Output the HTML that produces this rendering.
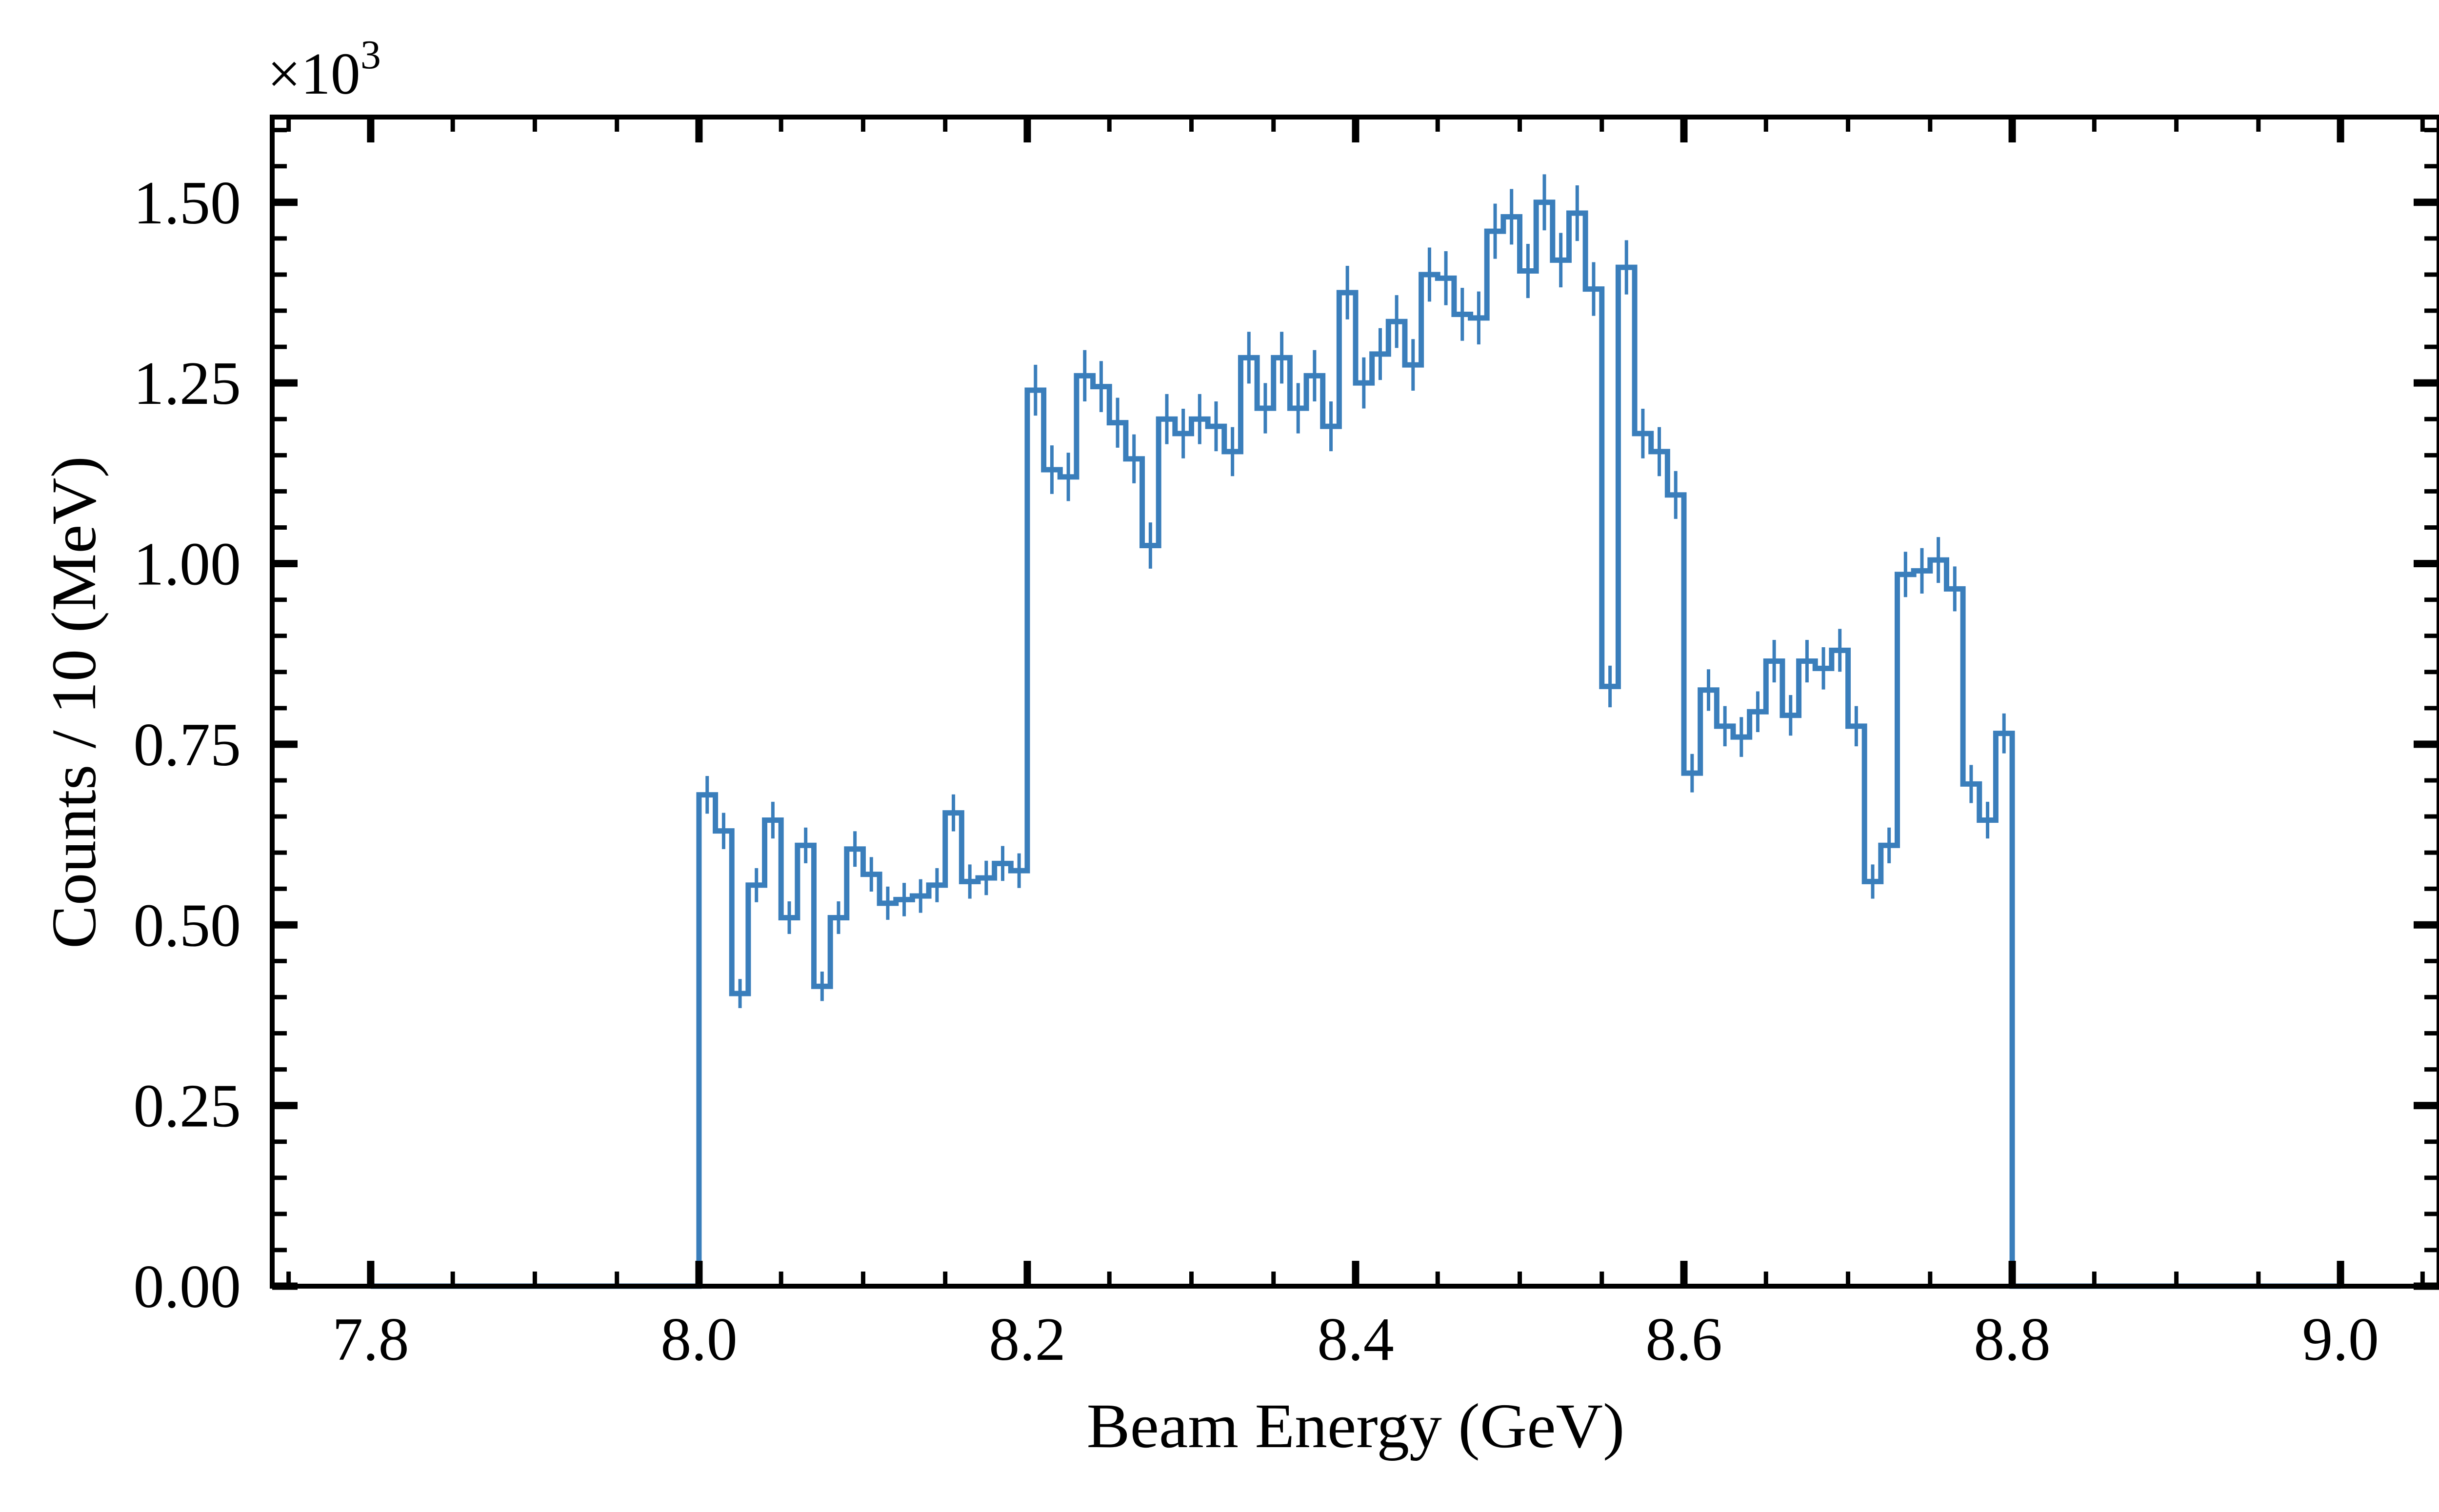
<!DOCTYPE html>
<html>
<head>
<meta charset="utf-8">
<style>
  html, body { margin: 0; padding: 0; background: #fff; }
  svg { display: block; }
  text { font-family: "Liberation Serif", "DejaVu Serif", serif; fill: #000; }
</style>
</head>
<body>
<svg id="chart" xmlns="http://www.w3.org/2000/svg" width="5100" height="3100" viewBox="0 0 5100 3100">
  <rect x="0" y="0" width="5100" height="3100" fill="#ffffff"/>
  <g id="series"></g>
  <g id="errors"></g>
  <g id="ticks"></g>
  <rect x="558" y="240" width="4442" height="2397" fill="none" stroke="#000" stroke-width="10"/>
  <g id="labels"></g>
  <text x="548" y="192" font-size="122">×10<tspan font-size="84" dy="-52">3</tspan></text>
  <text x="2779" y="2967" font-size="130" text-anchor="middle" textLength="1103" lengthAdjust="spacingAndGlyphs">Beam Energy (GeV)</text>
  <text transform="translate(195,1440) rotate(-90)" x="0" y="0" font-size="130" text-anchor="middle" textLength="1010" lengthAdjust="spacingAndGlyphs">Counts / 10 (MeV)</text>
</svg>
<script>
// ---- data ----
const binStart = 8.00;      // first filled bin lower edge (GeV)
const binWidth = 0.01;      // 10 MeV bins
const histRangeLow = 7.8;
const histRangeHigh = 9.0;
const counts = [
  0.680, 0.630, 0.405, 0.555, 0.645, 0.510, 0.610, 0.415, 0.510, 0.605,
  0.570, 0.530, 0.535, 0.540, 0.555, 0.655, 0.560, 0.565, 0.585, 0.575,
  1.240, 1.130, 1.120, 1.260, 1.245, 1.195, 1.145, 1.025, 1.200, 1.180,
  1.200, 1.190, 1.155, 1.285, 1.215, 1.285, 1.215, 1.260, 1.190, 1.375,
  1.250, 1.290, 1.335, 1.275, 1.400, 1.395, 1.345, 1.340, 1.460, 1.480,
  1.405, 1.500, 1.420, 1.485, 1.380, 0.830, 1.410, 1.180, 1.155, 1.095,
  0.710, 0.825, 0.775, 0.760, 0.795, 0.865, 0.790, 0.865, 0.855, 0.880,
  0.775, 0.560, 0.610, 0.985, 0.990, 1.005, 0.965, 0.695, 0.645, 0.765
];
const xTickValues = [7.8, 8.0, 8.2, 8.4, 8.6, 8.8, 9.0];
const xTickLabels = ["7.8", "8.0", "8.2", "8.4", "8.6", "8.8", "9.0"];
const yTickValues = [0, 0.25, 0.5, 0.75, 1.0, 1.25, 1.5];
const yTickLabels = ["0.00", "0.25", "0.50", "0.75", "1.00", "1.25", "1.50"];

// ---- axes ----
const PL = 558, PR = 5000, PT = 240, PB = 2637;
const XMIN = 7.74, XMAX = 9.06, YMIN = 0, YMAX = 1.618;
function xs(v) { return PL + (v - XMIN) / (XMAX - XMIN) * (PR - PL); }
function ys(v) { return PB - (v - YMIN) / (YMAX - YMIN) * (PB - PT); }

const NS = "http://www.w3.org/2000/svg";
const COLOR = "#3a7ebb";

// histogram step path
let d = "M" + xs(histRangeLow) + "," + ys(0) + " L" + xs(binStart) + "," + ys(0);
for (let i = 0; i < counts.length; i++) {
  const x0 = binStart + i * binWidth, x1 = x0 + binWidth;
  d += " L" + xs(x0) + "," + ys(counts[i]) + " L" + xs(x1) + "," + ys(counts[i]);
}
const lastEdge = binStart + counts.length * binWidth;
d += " L" + xs(lastEdge) + "," + ys(0) + " L" + xs(histRangeHigh) + "," + ys(0);
const path = document.createElementNS(NS, "path");
path.setAttribute("d", d);
path.setAttribute("fill", "none");
path.setAttribute("stroke", COLOR);
path.setAttribute("stroke-width", "11");
path.setAttribute("stroke-linejoin", "miter");


document.getElementById("series").appendChild(path);

// error bars (Poisson, counts in units of 1e3)
const eg = document.getElementById("errors");
for (let i = 0; i < counts.length; i++) {
  const c = binStart + (i + 0.5) * binWidth;
  const e = Math.sqrt(counts[i] * 1000) / 1000;
  const ln = document.createElementNS(NS, "line");
  ln.setAttribute("x1", xs(c)); ln.setAttribute("x2", xs(c));
  ln.setAttribute("y1", ys(counts[i] - e)); ln.setAttribute("y2", ys(counts[i] + e));
  ln.setAttribute("stroke", COLOR);
  ln.setAttribute("stroke-width", "7");
  
  
  eg.appendChild(ln);
}

// ticks
const tg = document.getElementById("ticks");
function tick(x1, y1, x2, y2, w) {
  const t = document.createElementNS(NS, "line");
  t.setAttribute("x1", x1); t.setAttribute("y1", y1);
  t.setAttribute("x2", x2); t.setAttribute("y2", y2);
  t.setAttribute("stroke", "#000"); t.setAttribute("stroke-width", w);
  
  
  tg.appendChild(t);
}
const MAJ = 52, MIN = 30;
for (let k = 0; k <= 26; k++) {
  const v = 7.75 + k * 0.05;
  if (v < XMIN || v > XMAX) continue;
  const major = Math.abs((v * 10) % 2) < 1e-6 || Math.abs((v * 10) % 2 - 2) < 1e-6;
  const x = xs(v), L = major ? MAJ : MIN, w = major ? 15 : 9;
  tick(x, PB, x, PB - L, w);
  tick(x, PT, x, PT + L, w);
}
for (let k = 0; k <= 32; k++) {
  const v = k * 0.05;
  if (v > YMAX) continue;
  const major = (k % 5 === 0);
  const y = ys(v), L = major ? MAJ : MIN, w = major ? 15 : 9;
  tick(PL, y, PL + L, y, w);
  tick(PR, y, PR - L, y, w);
}

// tick labels
const lg = document.getElementById("labels");
for (let i = 0; i < xTickValues.length; i++) {
  const t = document.createElementNS(NS, "text");
  t.setAttribute("x", xs(xTickValues[i]));
  t.setAttribute("y", 2788);
  t.setAttribute("font-size", "126");
  t.setAttribute("text-anchor", "middle");
  t.textContent = xTickLabels[i];
  
  
  lg.appendChild(t);
}
for (let i = 0; i < yTickValues.length; i++) {
  const t = document.createElementNS(NS, "text");
  t.setAttribute("x", 494);
  t.setAttribute("y", ys(yTickValues[i]) + 43);
  t.setAttribute("font-size", "126");
  t.setAttribute("text-anchor", "end");
  t.textContent = yTickLabels[i];
  
  
  lg.appendChild(t);
}
</script>
</body>
</html>
